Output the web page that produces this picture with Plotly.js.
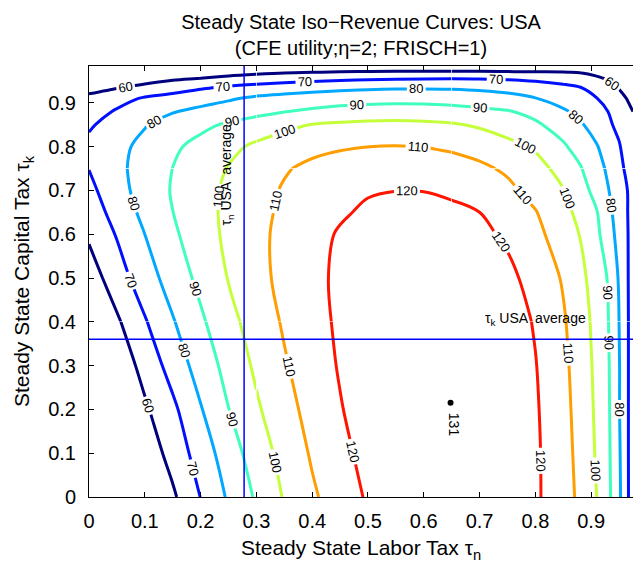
<!DOCTYPE html>
<html>
<head>
<meta charset="utf-8">
<script src="https://cdn.plot.ly/plotly-3.0.1.min.js"></script>
<style>html,body{margin:0;padding:0;background:#fff;}#chart{width:633px;height:568px;}</style>
</head>
<body>
<div id="chart"></div>
<script>
// Steady state labor tax (x) and capital tax (y) grid
const tauN = [0, 0.05, 0.1, 0.15, 0.2, 0.25, 0.3, 0.35, 0.4, 0.45, 0.5, 0.55, 0.6, 0.65, 0.7, 0.75, 0.8, 0.85, 0.88, 0.91, 0.93, 0.95, 0.965, 0.975];
const tauK = [0, 0.1, 0.2, 0.3, 0.4, 0.5, 0.6, 0.65, 0.7, 0.75, 0.8, 0.85, 0.88, 0.91, 0.935, 0.955, 0.97, 0.99];
// Revenue, one row per tauK value
const revenue = [
  [22, 34, 46.5, 58.3, 70.2, 81.3, 91.3, 100.8, 108.5, 115, 121.1, 125.6, 128.2, 129, 128.1, 125.6, 121.5, 114, 108.1, 100, 92.6, 81.9, 71.4, 64],
  [30, 42.4, 53.3, 63.8, 74.4, 85.2, 94.8, 103.4, 111.1, 117.3, 123.1, 127.2, 129.6, 130.3, 129.2, 126.3, 121.5, 113.5, 107.3, 99, 92.1, 81.3, 71.3, 64],
  [37, 49, 58.5, 67.8, 79.3, 89.8, 98.6, 106.5, 113.3, 119.4, 124.5, 128.2, 130.3, 131, 129.8, 126.5, 121.1, 112.9, 106.6, 98.3, 91.7, 80.6, 71.3, 64],
  [43, 53.4, 63.3, 74, 84.2, 93.3, 101.7, 109, 115.1, 120.8, 125, 128.1, 129.9, 130.5, 129.4, 126, 120.4, 112.2, 105.8, 97.7, 91.3, 80.6, 71.3, 64],
  [49, 58.5, 69.1, 79.2, 88.4, 96.9, 104.4, 111.1, 116.5, 121.6, 125.3, 127.9, 129.4, 129.8, 128.5, 125, 119.2, 111.1, 104.7, 96.9, 90.6, 80, 71.3, 64],
  [54.9, 65.4, 75.4, 84.3, 92.5, 100.4, 107, 112.6, 117.5, 121.8, 124.8, 126.9, 127.9, 127.8, 126, 122.4, 116.5, 109.1, 102.8, 95.3, 89.5, 79, 71, 64],
  [61.5, 70.7, 80, 88.3, 95.6, 102, 107.6, 112.5, 116.8, 120.9, 123.45, 124.9, 125.2, 124.3, 122.2, 118.4, 112.6, 105.1, 99.7, 92.1, 84.8, 76.5, 70.8, 64],
  [64.6, 73.7, 82.6, 89.9, 96.3, 102.2, 107.3, 111.7, 115.2, 118.8, 121.5, 122.8, 123, 122.1, 120, 115.2, 110.5, 103, 97.4, 90.5, 82.8, 75.5, 70.3, 64],
  [67.4, 76.3, 84.1, 90.7, 96.4, 101.8, 106.4, 110.95, 114.7, 117.4, 119.2, 119.9, 119.8, 118.3, 115.8, 112.2, 106.7, 100.4, 94.1, 86.7, 80.6, 74.5, 70, 63],
  [70.2, 77.6, 84.1, 90.1, 95.4, 100.5, 104.7, 109.1, 112.35, 114.65, 116, 116.4, 115.85, 114.35, 111.9, 108.5, 103.6, 96.6, 90.9, 83.75, 78.5, 72.6, 68, 62],
  [72.3, 77.3, 82.6, 88.2, 93.1, 97.6, 101.7, 104.8, 107.2, 108.9, 109.95, 110.3, 109.85, 108.5, 106.3, 103.2, 98.8, 91.3, 86.1, 80.6, 75.75, 70.75, 66, 62],
  [68.8, 74, 79.4, 83.5, 87.6, 91.3, 94.5, 97.7, 100.3, 101.5, 102.3, 102.5, 102, 101, 98.8, 95, 91.5, 85.7, 81.2, 75.9, 71.5, 67.9, 64, 61.4],
  [65, 71.1, 75.3, 79.5, 82.2, 84.7, 87.2, 89.7, 91.6, 93.2, 94.3, 94.7, 94.5, 93.7, 92.2, 90.7, 87.2, 81.4, 77.4, 72.9, 70, 65.6, 62.2, 60],
  [61.4, 66.2, 71.1, 73.7, 76.3, 78.9, 81.8, 83.5, 84.8, 85.8, 86.4, 86.7, 86.6, 86.1, 85, 83.2, 80.3, 75.8, 73, 70.2, 66.5, 62.5, 59.6, 56],
  [58, 59.4, 62, 65.3, 68.7, 71.3, 73.2, 74.9, 76.3, 77.5, 78.4, 78.9, 79, 78.8, 78, 76.7, 74.7, 72.2, 70.3, 66, 62.8, 59.5, 56.5, 54],
  [54, 55.3, 57, 58.8, 60.4, 62.5, 64.3, 65.8, 67, 68, 68.8, 69.4, 69.8, 70, 69.8, 69.2, 68, 66, 64.2, 61.6, 59.2, 55.5, 53, 51],
  [50, 51, 52.2, 53.5, 55, 56.5, 58, 59.1, 59.8, 60.4, 60.8, 61.1, 61.2, 61.2, 61, 60.7, 60.4, 60.2, 59.6, 57.5, 56, 53, 51, 49],
  [45, 45.5, 46, 46.5, 47, 47.5, 48, 48.5, 49, 49.3, 49.6, 49.8, 50, 50, 50, 49.8, 49.5, 49, 48.5, 48, 47, 46, 45, 44]
];
const levels = [60, 70, 80, 90, 100, 110, 120];
const levelColors = ['#00007f', '#0010ff', '#00a8ff', '#40ffbe', '#c4ff3a', '#ff9e00', '#ff1400'];
const usaTauN = 0.278;
const usaTauK = 0.36;
const peakTauN = [0.648];
const peakTauK = [0.215];
const peakValue = [131];
const tickVals = [0, 0.1, 0.2, 0.3, 0.4, 0.5, 0.6, 0.7, 0.8, 0.9];
const tickText = ['0', '0.1', '0.2', '0.3', '0.4', '0.5', '0.6', '0.7', '0.8', '0.9'];
// the grid is drawn in pieces so that every curve gets several inline labels
const colSplits = [0, 6, 13, 23];
const rowSplits = [0, 4, 9, 17];

const lo = levels[0], hi = levels[levels.length - 1];
const colorscale = levels.map((l, i) => [(l - lo) / (hi - lo), levelColors[i]]);
const FONT = 'Liberation Sans, Arial, Helvetica, sans-serif';

const traces = [];
for (let r = 0; r < rowSplits.length - 1; r++) {
  for (let c = 0; c < colSplits.length - 1; c++) {
    const r0 = rowSplits[r], r1 = rowSplits[r + 1], c0 = colSplits[c], c1 = colSplits[c + 1];
    traces.push({
      type: 'contour',
      x: tauN.slice(c0, c1 + 1),
      y: tauK.slice(r0, r1 + 1),
      z: revenue.slice(r0, r1 + 1).map(row => row.slice(c0, c1 + 1)),
      autocontour: false,
      contours: {start: lo, end: hi, size: levels[1] - levels[0], coloring: 'lines', showlabels: true,
        labelfont: {family: FONT, size: 13, color: '#000'}},
      line: {width: 3, smoothing: 1},
      colorscale: colorscale, zmin: lo, zmax: hi,
      showscale: false, hoverinfo: 'skip'
    });
  }
}
traces.push({
  type: 'scatter', mode: 'markers',
  x: peakTauN, y: peakTauK,
  marker: {color: '#000', size: 6},
  hoverinfo: 'skip'
});

const layout = {
  width: 633, height: 568,
  margin: {l: 89, r: 0, t: 66, b: 71},
  paper_bgcolor: '#fff', plot_bgcolor: '#fff',
  showlegend: false,
  font: {family: FONT, color: '#000'},
  title: {
    text: 'Steady State Iso\u2212Revenue Curves: USA<br>(CFE utility;\u03b7=2; FRISCH=1)',
    font: {family: FONT, size: 20, color: '#000'},
    x: 0.5, xanchor: 'center', xref: 'paper',
    y: 1 - 29 / 568, yanchor: 'top', yref: 'container'
  },
  xaxis: {
    range: [0, 0.975], tickvals: tickVals, ticktext: tickText,
    ticks: 'inside', ticklen: 5, tickcolor: '#000', tickfont: {family: FONT, size: 20},
    ticklabelstandoff: 6,
    showline: true, linecolor: '#000', linewidth: 1, mirror: 'ticks',
    showgrid: false, zeroline: false,
    title: {text: 'Steady State Labor Tax \u03c4<sub>n</sub>', font: {family: FONT, size: 21}, standoff: 9}
  },
  yaxis: {
    range: [0, 0.984], tickvals: tickVals, ticktext: tickText,
    ticks: 'inside', ticklen: 5, tickcolor: '#000', tickfont: {family: FONT, size: 20},
    ticklabelstandoff: 8,
    showline: true, linecolor: '#000', linewidth: 1,
    showgrid: false, zeroline: false,
    title: {text: 'Steady State Capital Tax \u03c4<sub>k</sub>', font: {family: FONT, size: 21}, standoff: 12}
  },
  shapes: [
    {type: 'line', xref: 'x', yref: 'paper', x0: usaTauN, x1: usaTauN, y0: 0, y1: 1, line: {color: '#0000ff', width: 1.5}},
    {type: 'line', xref: 'paper', yref: 'y', x0: 0, x1: 1, y0: usaTauK, y1: usaTauK, line: {color: '#0000ff', width: 1.5}}
  ],
  annotations: [
    {x: usaTauN - 0.03, y: 0.735, xref: 'x', yref: 'y', text: '\u03c4<sub>n</sub> USA  average', textangle: -90,
      showarrow: false, font: {family: FONT, size: 14, color: '#000'}},
    {x: 0.80, y: usaTauK + 0.047, xref: 'x', yref: 'y', text: '\u03c4<sub>k</sub> USA  average',
      showarrow: false, font: {family: FONT, size: 14, color: '#000'}},
    {x: peakTauN[0] + 0.006, y: peakTauK[0] - 0.05, xref: 'x', yref: 'y', text: String(peakValue[0]), textangle: 90,
      showarrow: false, font: {family: FONT, size: 14, color: '#000'}}
  ]
};

Plotly.newPlot('chart', traces, layout, {displayModeBar: false, staticPlot: true});
</script>
</body>
</html>
